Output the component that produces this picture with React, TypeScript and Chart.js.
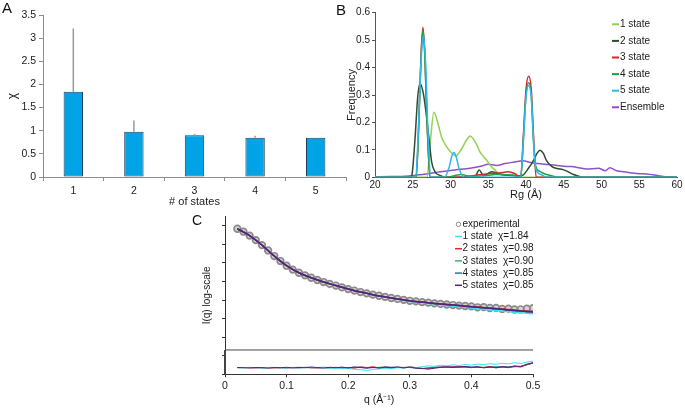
import React, { useEffect, useRef } from 'react';
import { Chart, registerables } from 'chart.js';

Chart.register(...registerables);

const FONT = "'Liberation Sans', Arial, Helvetica, sans-serif";
Chart.defaults.font.family = FONT;
Chart.defaults.color = '#1a1a1a';

// ---------- Panel A data ----------
const stateCounts = ['1', '2', '3', '4', '5'];
const chiValues = [1.84, 0.98, 0.9, 0.85, 0.85];
const chiErrUp = [1.37, 0.24, 0.03, 0.04, 0];
const chiTicks = [0, 0.5, 1, 1.5, 2, 2.5, 3, 3.5];

// ---------- Panel B data (Rg distributions) ----------
const rg1State = [20, 26.9, 27.3, 27.8, 28.4, 28.8, 29.5, 30.2, 30.7, 31.5, 32.1, 32.6, 33.0, 33.5, 33.9, 34.4, 34.8, 35.2, 35.9, 36.6, 37.3, 38.0, 38.7, 39.3, 60];
const freq1State = [0, 0, 0.12, 0.237, 0.19, 0.148, 0.111, 0.087, 0.078, 0.105, 0.135, 0.151, 0.141, 0.117, 0.093, 0.074, 0.062, 0.046, 0.026, 0.01, 0.008, 0.01, 0.005, 0, 0];

const rg2State = [20, 24.7, 24.9, 25.3, 25.65, 25.95, 26.4, 26.85, 27.2, 27.5, 27.95, 28.6, 29.3, 33.2, 33.8, 34.35, 34.9, 35.45, 35.9, 36.8, 38.1, 39.0, 39.6, 40.3, 41.0, 41.5, 41.85, 42.3, 42.7, 43.4, 44.1, 44.9, 45.6, 46.3, 47.2, 48, 60];
const freq2State = [0, 0, 0.01, 0.14, 0.29, 0.343, 0.306, 0.215, 0.13, 0.056, 0.02, 0.007, 0, 0, 0.027, 0.007, 0.013, 0.02, 0.018, 0.01, 0.007, 0.005, 0.008, 0.032, 0.062, 0.089, 0.099, 0.087, 0.062, 0.04, 0.032, 0.028, 0.02, 0.01, 0.002, 0, 0];

const rg3State = [20, 25.45, 25.8, 26.1, 26.35, 26.6, 26.9, 27.3, 31.0, 33.0, 35.0, 36.5, 37.6, 38.5, 39.3, 39.65, 40.0, 40.35, 40.7, 41.0, 41.35, 60];
const freq3State = [0, 0, 0.2, 0.45, 0.547, 0.45, 0.2, 0, 0, 0.006, 0.013, 0.016, 0.02, 0.014, 0, 0.15, 0.32, 0.368, 0.32, 0.15, 0, 0];

const rg4State = [20, 25.45, 25.8, 26.1, 26.35, 26.6, 26.9, 27.3, 29.5, 30.5, 31.5, 32.5, 34.5, 36.0, 37.5, 38.6, 39.3, 39.65, 40.0, 40.35, 40.7, 41.0, 41.3, 41.8, 42.5, 43.5, 44.5, 60];
const freq4State = [0, 0, 0.19, 0.44, 0.535, 0.44, 0.19, 0, 0, 0.006, 0.01, 0.004, 0.006, 0.01, 0.009, 0.006, 0, 0.14, 0.3, 0.345, 0.3, 0.13, 0.04, 0.022, 0.012, 0.005, 0, 0];

const rg5State = [20, 25.4, 25.75, 26.1, 26.4, 26.7, 27.0, 27.4, 29.2, 29.8, 30.15, 30.45, 30.75, 31.1, 31.8, 39.3, 39.65, 40.0, 40.35, 40.7, 41.0, 41.3, 42.0, 42.8, 60];
const freq5State = [0, 0, 0.18, 0.42, 0.515, 0.42, 0.18, 0, 0, 0.035, 0.075, 0.09, 0.075, 0.035, 0, 0, 0.13, 0.29, 0.335, 0.29, 0.13, 0.03, 0.01, 0, 0];

const rgEnsemble = [20, 22, 24, 25.5, 27, 28.6, 30.6, 32.6, 34, 35, 36.1, 37.2, 38.3, 39.6, 40.6, 41.9, 43, 44.1, 45, 46, 47, 48, 49.6, 50.5, 51.1, 52, 53, 53.8, 55, 56, 57.7, 59, 60];
const freqEnsemble = [0.002, 0.003, 0.004, 0.008, 0.013, 0.02, 0.027, 0.033, 0.04, 0.048, 0.043, 0.05, 0.055, 0.06, 0.054, 0.049, 0.047, 0.043, 0.04, 0.039, 0.035, 0.03, 0.033, 0.024, 0.035, 0.024, 0.02, 0.017, 0.013, 0.012, 0.005, 0.001, 0];

const rgLabels = ['1 state', '2 state', '3 state', '4 state', '5 state', 'Ensemble'];

// ---------- Panel C data (SAXS, log-intensity in arbitrary decades) ----------
const qExp = [0.02, 0.03, 0.04, 0.05, 0.06, 0.07, 0.08, 0.09, 0.10, 0.11, 0.12, 0.13, 0.14, 0.15, 0.16, 0.17, 0.18, 0.19, 0.20, 0.21, 0.22, 0.23, 0.24, 0.25, 0.26, 0.27, 0.28, 0.29, 0.30, 0.31, 0.32, 0.33, 0.34, 0.35, 0.36, 0.37, 0.38, 0.39, 0.40, 0.41, 0.42, 0.43, 0.44, 0.45, 0.46, 0.47, 0.48, 0.49, 0.50];
const logIExp = [7.84, 7.68, 7.47, 7.23, 6.96, 6.67, 6.37, 6.10, 5.85, 5.64, 5.47, 5.33, 5.20, 5.08, 4.97, 4.87, 4.78, 4.68, 4.59, 4.51, 4.43, 4.36, 4.29, 4.23, 4.17, 4.11, 4.06, 4.01, 3.96, 3.93, 3.89, 3.86, 3.82, 3.79, 3.76, 3.73, 3.70, 3.68, 3.66, 3.61, 3.62, 3.57, 3.58, 3.52, 3.54, 3.49, 3.50, 3.53, 3.56];

const qFit = [0.02, 0.04, 0.06, 0.08, 0.10, 0.12, 0.14, 0.16, 0.18, 0.20, 0.22, 0.24, 0.26, 0.28, 0.30, 0.32, 0.34, 0.36, 0.38, 0.40, 0.42, 0.44, 0.46, 0.48, 0.50];
const logIFit1 = [7.84, 7.47, 6.96, 6.38, 5.86, 5.48, 5.21, 4.99, 4.80, 4.62, 4.45, 4.30, 4.17, 4.05, 3.94, 3.86, 3.78, 3.71, 3.64, 3.57, 3.50, 3.44, 3.38, 3.31, 3.26];
const logIFit2 = [7.84, 7.47, 6.96, 6.37, 5.85, 5.47, 5.20, 4.97, 4.78, 4.59, 4.43, 4.29, 4.17, 4.06, 3.96, 3.89, 3.82, 3.76, 3.70, 3.65, 3.60, 3.54, 3.49, 3.43, 3.38];
const logIFit3 = [7.84, 7.47, 6.96, 6.37, 5.85, 5.47, 5.20, 4.97, 4.78, 4.59, 4.43, 4.29, 4.17, 4.06, 3.96, 3.89, 3.82, 3.76, 3.70, 3.64, 3.59, 3.53, 3.47, 3.41, 3.36];
const logIFit4 = [7.84, 7.47, 6.96, 6.37, 5.85, 5.47, 5.20, 4.97, 4.78, 4.59, 4.43, 4.29, 4.17, 4.06, 3.96, 3.89, 3.82, 3.76, 3.70, 3.64, 3.59, 3.53, 3.47, 3.41, 3.36];
const logIFit5 = [7.84, 7.47, 6.96, 6.37, 5.85, 5.47, 5.20, 4.97, 4.78, 4.59, 4.43, 4.29, 4.17, 4.06, 3.96, 3.89, 3.82, 3.76, 3.70, 3.64, 3.59, 3.53, 3.47, 3.41, 3.35];

const resid1 = [0.1, -0.1, 0.2, 0.0, -0.2, 0.1, 0.2, -0.1, 0.0, 0.2, -0.2, 0.1, 0.3, -0.1, 0.0, -0.3, -0.2, -0.5, -0.4, -0.8, -1.0, -1.4, -0.9, -0.6, -0.3, -0.5, 0.0, -0.2, 0.3, 0.1, 0.5, 0.9, 0.7, 1.2, 1.0, 1.4, 1.1, 1.6, 1.3, 1.8, 1.5, 2.0, 1.7, 2.2, 1.9, 2.5, 2.1, 2.8, 3.3];
const resid2 = [0.0, 0.1, 0.0, -0.1, 0.1, 0.0, -0.1, 0.1, 0.0, 0.1, -0.1, 0.2, 0.0, -0.2, 0.1, -0.1, 0.2, -0.2, 0.0, -0.3, 0.4, 0.0, 0.5, -0.1, 0.3, -0.2, 0.2, 0.0, 0.4, 0.1, -0.3, -0.5, 0.0, 0.3, 0.1, 0.5, 0.2, 0.4, 0.0, 0.3, 0.1, 0.6, -0.1, 0.4, 0.0, 0.7, 0.3, 1.5, 2.3];
const resid3 = [0.0, 0.1, -0.1, 0.1, 0.0, 0.2, 0.0, 0.1, -0.1, 0.1, 0.2, 0.1, 0.2, 0.1, 0.2, -0.4, 0.3, 0.2, 0.4, 0.3, 0.2, 0.3, 0.4, 0.6, 2.2];
const resid4 = [0.1, 0.0, 0.1, 0.0, -0.1, 0.1, 0.0, 0.2, 0.0, -0.1, 0.2, 0.0, 0.3, 0.2, 0.1, -0.5, 0.2, 0.3, 0.5, 0.2, 0.1, 0.4, 0.3, 0.7, 2.4];
const resid5 = [0.1, 0.0, -0.1, 0.1, 0.0, -0.2, 0.1, 0.0, 0.2, -0.1, 0.1, 0.0, 0.3, 0.1, -0.2, 0.2, 0.0, 0.3, -0.1, 0.4, 0.1, -0.3, 0.2, -0.2, 0.3, 0.0, 0.4, -0.1, 0.3, -0.2, -0.4, -0.7, -0.3, 0.2, 0.5, 0.1, 0.4, 0.6, 0.2, 0.5, -0.1, 0.4, 0.0, 0.5, 0.2, 0.9, 0.6, 1.8, 2.5];

const fitCounts = [1, 2, 3, 4, 5];

// ---------- helpers ----------
const pts = (xs: number[], ys: number[]) => xs.map((x, i) => ({ x, y: ys[i] }));
const fmtNum = (v: number | string) => String(Number(Number(v).toFixed(3)));

const errorBars = {
  id: 'errorBars',
  afterDatasetsDraw(chart: any, _args: any, opts: any) {
    const meta = chart.getDatasetMeta(0);
    const y = chart.scales.y;
    const ctx = chart.ctx;
    ctx.save();
    ctx.strokeStyle = opts.color;
    ctx.lineWidth = opts.width;
    meta.data.forEach((bar: any, i: number) => {
      const e = chiErrUp[i];
      if (!e) return;
      const v = chiValues[i];
      ctx.beginPath();
      ctx.moveTo(bar.x, y.getPixelForValue(v));
      ctx.lineTo(bar.x, y.getPixelForValue(v + e));
      ctx.stroke();
    });
    ctx.restore();
  },
};

const insideLegend = {
  id: 'insideLegend',
  afterDatasetsDraw(chart: any, _args: any, opts: any) {
    const ctx = chart.ctx;
    ctx.save();
    ctx.font = `${opts.fontSize}px ${FONT}`;
    ctx.textBaseline = 'middle';
    ctx.textAlign = 'left';
    (opts.datasetIndexes as number[]).forEach((di, row) => {
      const ds = chart.data.datasets[di];
      const y = opts.top + row * opts.rowHeight;
      if (ds.showLine === false) {
        ctx.beginPath();
        ctx.arc(opts.x + opts.lineLength / 2, y, opts.markerRadius, 0, Math.PI * 2);
        ctx.fillStyle = '#ffffff';
        ctx.fill();
        ctx.strokeStyle = ds.borderColor;
        ctx.lineWidth = 1;
        ctx.stroke();
      } else {
        ctx.beginPath();
        ctx.moveTo(opts.x, y);
        ctx.lineTo(opts.x + opts.lineLength, y);
        ctx.strokeStyle = ds.borderColor;
        ctx.lineWidth = opts.lineWidth;
        ctx.stroke();
      }
      ctx.fillStyle = opts.color;
      ctx.fillText(ds.label, opts.x + opts.lineLength + opts.gap, y);
    });
    ctx.restore();
  },
};

const residualFrame = {
  id: 'residualFrame',
  afterDatasetsDraw(chart: any, _args: any, opts: any) {
    const { ctx, chartArea } = chart;
    const y = chart.scales.y.getPixelForValue(opts.value);
    ctx.save();
    ctx.strokeStyle = opts.color;
    ctx.lineWidth = 1;
    ctx.beginPath();
    ctx.moveTo(chartArea.left, y);
    ctx.lineTo(chartArea.right, y);
    ctx.stroke();
    ctx.lineWidth = 2;
    ctx.beginPath();
    ctx.moveTo(chartArea.left, y);
    ctx.lineTo(chartArea.left, chartArea.bottom);
    ctx.stroke();
    ctx.restore();
  },
};

function makeA(canvas: HTMLCanvasElement) {
  const axis = '#8c8c8c';
  return new Chart(canvas, {
    type: 'bar',
    data: {
      labels: stateCounts,
      datasets: [
        {
          data: chiValues,
          backgroundColor: '#00a3e6',
          borderColor: '#1f3f5c',
          borderWidth: 1,
          borderSkipped: false,
          barPercentage: 0.32,
          categoryPercentage: 1,
        },
      ],
    },
    options: {
      animation: false,
      responsive: false,
      events: [],
      layout: { padding: { left: 0, right: 6, top: 15, bottom: 0 } },
      plugins: {
        legend: { display: false },
        tooltip: { enabled: false },
        errorBars: { color: '#9a9a9a', width: 1.5 },
      } as any,
      scales: {
        x: {
          grid: { offset: true, drawOnChartArea: false, tickLength: 4, color: axis },
          border: { color: axis },
          ticks: { font: { size: 10.5 }, padding: 4 },
          title: { display: true, text: '# of states', font: { size: 11 }, padding: { top: 0, bottom: 3 } },
          afterFit: (s: any) => { s.height = 35; },
        },
        y: {
          min: 0,
          max: 3.5,
          afterBuildTicks: (s: any) => { s.ticks = chiTicks.map((v) => ({ value: v })); },
          ticks: { font: { size: 10.5 }, padding: 3, callback: (v: any) => fmtNum(v) },
          grid: { drawOnChartArea: false, tickLength: 4, color: axis },
          border: { color: axis },
          title: { display: true, text: 'χ', font: { size: 12 }, padding: { top: 5.8, bottom: 0 } },
          afterFit: (s: any) => { s.width = 43; },
        },
      },
    } as any,
    plugins: [errorBars],
  });
}

function makeB(canvas: HTMLCanvasElement) {
  const axis = '#555';
  const colors = ['#92d050', '#2e4d2e', '#d9252b', '#16a84e', '#33b5f0', '#8e52c8'];
  const xs = [rg1State, rg2State, rg3State, rg4State, rg5State, rgEnsemble];
  const ys = [freq1State, freq2State, freq3State, freq4State, freq5State, freqEnsemble];
  const orders = [5, 4, 3, 2, 1, 6];
  return new Chart(canvas, {
    type: 'line',
    data: {
      datasets: rgLabels.map((label, i) => ({
        label,
        data: pts(xs[i], ys[i]),
        borderColor: colors[i],
        backgroundColor: colors[i],
        borderWidth: 1.5,
        pointRadius: 0,
        cubicInterpolationMode: 'monotone',
        order: orders[i],
      })),
    },
    options: {
      animation: false,
      responsive: false,
      events: [],
      layout: { padding: { left: 0, right: 8, top: 12.7, bottom: 0 } },
      plugins: {
        legend: { display: false },
        tooltip: { enabled: false },
        insideLegend: {
          datasetIndexes: [0, 1, 2, 3, 4, 5],
          x: 272, top: 24.3, rowHeight: 16.6, lineLength: 7, gap: 1,
          fontSize: 10, lineWidth: 2, markerRadius: 2, color: '#1a1a1a',
        },
      } as any,
      scales: {
        x: {
          type: 'linear',
          min: 20,
          max: 60,
          ticks: { stepSize: 5, font: { size: 10 }, padding: 2 },
          grid: { display: false, drawTicks: false },
          border: { color: axis },
          title: { display: true, text: 'Rg (Å)', font: { size: 11 }, padding: { top: 0, bottom: 8 } },
          afterFit: (s: any) => { s.height = 32.7; },
        },
        y: {
          min: 0,
          max: 0.6,
          ticks: { stepSize: 0.1, font: { size: 10 }, padding: 2, callback: (v: any) => fmtNum(v) },
          grid: { drawOnChartArea: false, tickLength: 3, color: axis },
          border: { color: axis },
          title: { display: true, text: 'Frequency', font: { size: 11 }, padding: { top: 5, bottom: 0 } },
          afterFit: (s: any) => { s.width = 35; },
        },
      },
    } as any,
    plugins: [insideLegend],
  });
}

function makeC(canvas: HTMLCanvasElement) {
  const axis = '#333';
  const fitColors = ['#3fe0f0', '#e8262d', '#3fb36a', '#2f6fb5', '#4a2482'];
  const fits = [logIFit1, logIFit2, logIFit3, logIFit4, logIFit5];
  const fitOrders = [5, 2, 4, 3, 1];
  const resids = [
    pts(qExp, resid1),
    pts(qExp, resid2),
    pts(qFit, resid3),
    pts(qFit, resid4),
    pts(qExp, resid5),
  ];
  const residOrders = [7, 8, 10, 9, 6];
  const datasets: any[] = [
    {
      label: 'experimental',
      data: pts(qExp, logIExp),
      showLine: false,
      pointRadius: 3.3,
      pointBorderWidth: 1.7,
      borderColor: '#8a8a8a',
      backgroundColor: 'rgba(185,185,185,0.6)',
      order: 20,
    },
  ];
  fitCounts.forEach((n, i) => {
    datasets.push({
      label: `${n} state${n > 1 ? 's' : ''}  χ=${chiValues[i].toFixed(2)}`,
      data: pts(qFit, fits[i]),
      borderColor: fitColors[i],
      backgroundColor: fitColors[i],
      borderWidth: 1.5,
      pointRadius: 0,
      tension: 0.35,
      order: fitOrders[i],
    });
  });
  fitCounts.forEach((n, i) => {
    datasets.push({
      label: `residual ${n}`,
      data: resids[i],
      yAxisID: 'yRes',
      borderColor: fitColors[i],
      borderWidth: 1,
      pointRadius: 0,
      order: residOrders[i],
    });
  });
  return new Chart(canvas, {
    type: 'line',
    data: { datasets },
    options: {
      animation: false,
      responsive: false,
      events: [],
      layout: { padding: { left: 40, right: 27, top: 11.5, bottom: 0 } },
      plugins: {
        legend: { display: false },
        tooltip: { enabled: false },
        insideLegend: {
          datasetIndexes: [0, 1, 2, 3, 4, 5],
          x: 295, top: 19.3, rowHeight: 12.2, lineLength: 7, gap: 0.5,
          fontSize: 10, lineWidth: 1.5, markerRadius: 2.2, color: '#1a1a1a',
        },
        residualFrame: { value: 1.31, color: '#444' },
      } as any,
      scales: {
        x: {
          type: 'linear',
          min: 0,
          max: 0.5,
          ticks: { stepSize: 0.1, font: { size: 10.5 }, padding: 3, callback: (v: any) => fmtNum(v) },
          grid: { drawOnChartArea: false, tickLength: 3, color: axis },
          border: { color: axis },
          title: { display: true, text: 'q (Å⁻¹)', font: { size: 10.5 }, padding: { top: 0, bottom: 2 } },
          afterFit: (s: any) => { s.height = 33.7; },
        },
        y: {
          min: 0,
          max: 8.5,
          ticks: { stepSize: 1, display: false, includeBounds: false },
          grid: { drawOnChartArea: false, tickLength: 3, color: axis },
          border: { color: axis },
          title: { display: true, text: 'I(q) log-scale', font: { size: 10 }, padding: { top: 1, bottom: 0 } },
          afterFit: (s: any) => { s.width = 25; },
        },
        yRes: { display: false, min: -3.3, max: 75.6 },
      },
    } as any,
    plugins: [insideLegend, residualFrame],
  });
}

const letterStyle = (left: number, top: number, size: number): React.CSSProperties => ({
  position: 'absolute',
  left,
  top,
  fontSize: size,
  lineHeight: `${size}px`,
  fontFamily: FONT,
  color: '#111',
});

export default function App() {
  const refA = useRef<HTMLCanvasElement>(null);
  const refB = useRef<HTMLCanvasElement>(null);
  const refC = useRef<HTMLCanvasElement>(null);

  useEffect(() => {
    const charts = [makeA(refA.current!), makeB(refB.current!), makeC(refC.current!)];
    return () => charts.forEach((c) => c.destroy());
  }, []);

  return (
    <div
      style={{
        position: 'fixed',
        left: 0,
        top: 0,
        width: 685,
        height: 408,
        background: '#fff',
        overflow: 'hidden',
      }}
    >
      <canvas ref={refA} width={352} height={212} style={{ position: 'absolute', left: 0, top: 0, width: 352, height: 212 }} />
      <canvas ref={refB} width={345} height={210} style={{ position: 'absolute', left: 340, top: 0, width: 345, height: 210 }} />
      <canvas ref={refC} width={400} height={203} style={{ position: 'absolute', left: 160, top: 205, width: 400, height: 203 }} />
      <div style={letterStyle(2, 0, 15)}>A</div>
      <div style={letterStyle(336, 2, 15)}>B</div>
      <div style={letterStyle(192, 213, 14)}>C</div>
    </div>
  );
}
